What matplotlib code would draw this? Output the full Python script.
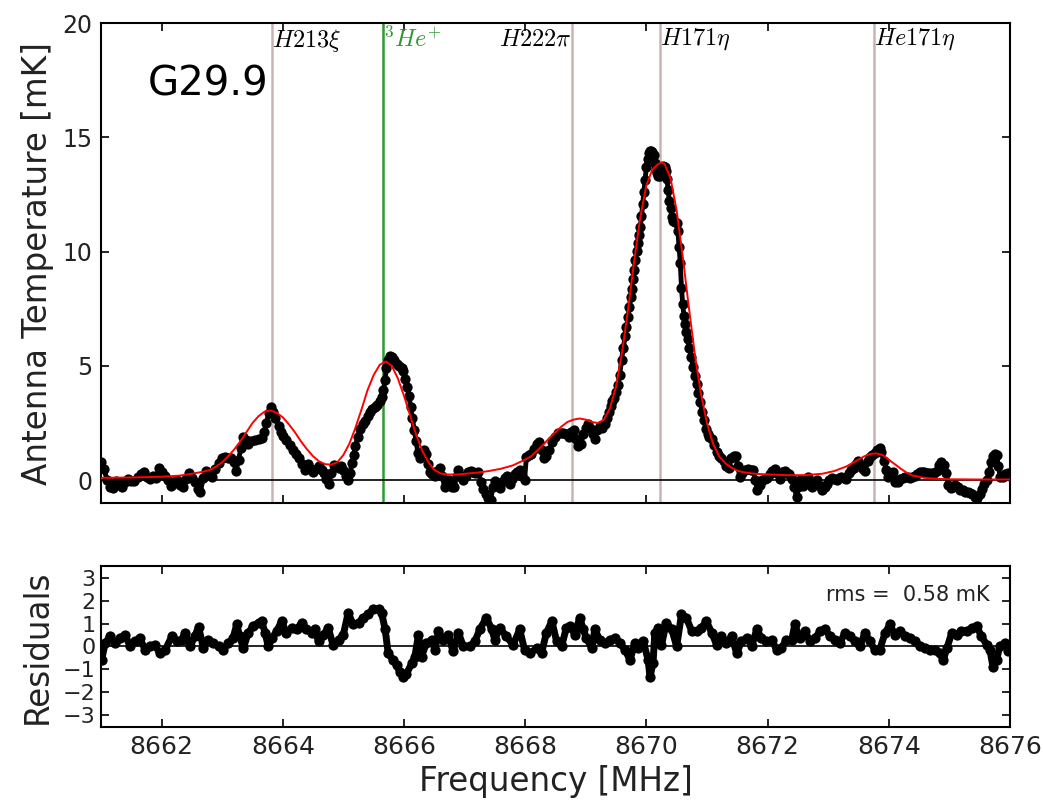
import matplotlib
matplotlib.use("Agg")
import matplotlib.pyplot as plt

plt.rcParams['font.family'] = ['DejaVu Sans']
plt.rcParams['mathtext.fontset'] = 'cm'

# ---------------- data ----------------
data_freq = [
    8661.00, 8661.05, 8661.10, 8661.15, 8661.20, 8661.25, 8661.29, 8661.34, 8661.40, 8661.45,
    8661.50, 8661.55, 8661.61, 8661.66, 8661.71, 8661.76, 8661.81, 8661.86, 8661.91, 8661.96,
    8662.01, 8662.06, 8662.11, 8662.16, 8662.21, 8662.26, 8662.31, 8662.36, 8662.41, 8662.46,
    8662.51, 8662.56, 8662.60, 8662.64, 8662.69, 8662.74, 8662.79, 8662.84, 8662.89, 8662.94,
    8662.99, 8663.04, 8663.09, 8663.14, 8663.19, 8663.23, 8663.27, 8663.31, 8663.35, 8663.39,
    8663.43, 8663.48, 8663.54, 8663.60, 8663.65, 8663.69, 8663.73, 8663.77, 8663.80, 8663.84,
    8663.88, 8663.93, 8663.97, 8664.01, 8664.06, 8664.12, 8664.17, 8664.22, 8664.27, 8664.32,
    8664.37, 8664.42, 8664.46, 8664.50, 8664.55, 8664.59, 8664.64, 8664.68, 8664.72, 8664.76,
    8664.80, 8664.84, 8664.88, 8664.92, 8664.96, 8665.00, 8665.04, 8665.08, 8665.11, 8665.14,
    8665.17, 8665.20, 8665.24, 8665.28, 8665.32, 8665.36, 8665.40, 8665.44, 8665.48, 8665.52,
    8665.56, 8665.60, 8665.63, 8665.66, 8665.69, 8665.71, 8665.74, 8665.77, 8665.80, 8665.84,
    8665.88, 8665.92, 8665.96, 8665.99, 8666.02, 8666.05, 8666.08, 8666.11, 8666.14, 8666.17,
    8666.20, 8666.23, 8666.26, 8666.30, 8666.33, 8666.37, 8666.40, 8666.43, 8666.47, 8666.51,
    8666.55, 8666.59, 8666.63, 8666.67, 8666.71, 8666.75, 8666.79, 8666.83, 8666.87, 8666.90,
    8666.94, 8666.98, 8667.02, 8667.06, 8667.10, 8667.14, 8667.18, 8667.23, 8667.27, 8667.31,
    8667.35, 8667.39, 8667.43, 8667.47, 8667.51, 8667.55, 8667.58, 8667.62, 8667.66, 8667.70,
    8667.75, 8667.79, 8667.83, 8667.87, 8667.91, 8667.95, 8667.99, 8668.02, 8668.06, 8668.10,
    8668.15, 8668.19, 8668.23, 8668.27, 8668.31, 8668.35, 8668.40, 8668.45, 8668.49, 8668.54,
    8668.59, 8668.63, 8668.68, 8668.72, 8668.76, 8668.80, 8668.84, 8668.88, 8668.92, 8668.96,
    8669.00, 8669.04, 8669.08, 8669.12, 8669.15, 8669.19, 8669.23, 8669.27, 8669.31, 8669.35,
    8669.38, 8669.41, 8669.44, 8669.47, 8669.50, 8669.53, 8669.56, 8669.59, 8669.62, 8669.65,
    8669.67, 8669.70, 8669.72, 8669.74, 8669.76, 8669.78, 8669.80, 8669.82, 8669.84, 8669.86,
    8669.88, 8669.90, 8669.92, 8669.94, 8669.96, 8669.98, 8670.00, 8670.02, 8670.04, 8670.06,
    8670.08, 8670.10, 8670.12, 8670.14, 8670.16, 8670.18, 8670.20, 8670.22, 8670.24, 8670.26,
    8670.28, 8670.30, 8670.32, 8670.34, 8670.36, 8670.38, 8670.40, 8670.42, 8670.44, 8670.47,
    8670.50, 8670.52, 8670.54, 8670.56, 8670.58, 8670.60, 8670.62, 8670.64, 8670.66, 8670.68,
    8670.71, 8670.74, 8670.77, 8670.80, 8670.83, 8670.86, 8670.89, 8670.92, 8670.95, 8670.98,
    8671.01, 8671.04, 8671.08, 8671.12, 8671.16, 8671.20, 8671.24, 8671.28, 8671.32, 8671.36,
    8671.40, 8671.44, 8671.48, 8671.51, 8671.54, 8671.58, 8671.63, 8671.68, 8671.72, 8671.76,
    8671.80, 8671.83, 8671.87, 8671.91, 8671.95, 8671.99, 8672.04, 8672.08, 8672.12, 8672.16,
    8672.20, 8672.24, 8672.28, 8672.32, 8672.36, 8672.40, 8672.44, 8672.48, 8672.51, 8672.54,
    8672.58, 8672.62, 8672.66, 8672.70, 8672.74, 8672.78, 8672.82, 8672.86, 8672.90, 8672.94,
    8672.98, 8673.02, 8673.06, 8673.10, 8673.14, 8673.18, 8673.22, 8673.26, 8673.30, 8673.34,
    8673.38, 8673.42, 8673.46, 8673.50, 8673.53, 8673.57, 8673.61, 8673.65, 8673.69, 8673.73,
    8673.77, 8673.81, 8673.85, 8673.88, 8673.92, 8673.96, 8673.99, 8674.03, 8674.07, 8674.11,
    8674.15, 8674.19, 8674.23, 8674.27, 8674.31, 8674.35, 8674.39, 8674.43, 8674.47, 8674.51,
    8674.55, 8674.59, 8674.63, 8674.67, 8674.71, 8674.75, 8674.79, 8674.83, 8674.87, 8674.91,
    8674.95, 8674.98, 8675.02, 8675.06, 8675.10, 8675.14, 8675.18, 8675.22, 8675.26, 8675.30,
    8675.34, 8675.38, 8675.42, 8675.46, 8675.50, 8675.54, 8675.58, 8675.62, 8675.66, 8675.69,
    8675.72, 8675.75, 8675.78, 8675.81, 8675.84, 8675.88, 8675.92, 8675.96, 8676.00,
]
data_temp = [
    0.8, 0.5, 0.0, -0.3, -0.35, -0.05, -0.1, -0.3, -0.1, 0.05,
    -0.05, -0.05, 0.15, 0.25, 0.35, 0.15, 0.05, 0.2, 0.1, 0.55,
    0.35, 0.2, 0.0, -0.25, -0.1, 0.0, -0.2, -0.3, 0.05, 0.3,
    0.1, -0.1, -0.4, -0.5, 0.1, 0.4, 0.25, 0.15, 0.5, 0.75,
    0.95, 1.0, 0.95, 0.95, 0.8, 0.4, 0.9, 1.4, 1.9, 1.75,
    1.6, 1.7, 1.75, 1.8, 1.85, 2.1, 2.5, 2.95, 3.2, 3.0,
    2.7, 2.35, 2.1, 1.95, 1.75, 1.55, 1.3, 1.15, 0.95, 0.7,
    0.45, 0.7, 0.5, 0.35, 0.5, 0.6, 0.45, 0.3, 0.05, -0.15,
    0.3, 0.65, 0.6, 0.55, 0.6, 0.45, 0.2, 0.0, 0.3, 0.75,
    1.1, 1.5, 1.9, 2.25, 2.45, 2.6, 2.8, 3.0, 3.1, 3.2,
    3.3, 3.45, 3.65, 3.95, 4.4, 4.9, 5.25, 5.45, 5.4, 5.25,
    5.1, 5.0, 4.9, 4.8, 4.45, 4.1, 3.7, 3.2, 2.7, 2.2,
    1.7, 1.2, 0.95, 1.2, 1.3, 1.15, 0.7, 0.35, 0.25, 0.2,
    0.4, 0.55, 0.2, -0.3, -0.1, 0.0, -0.3, -0.3, 0.2, 0.45,
    0.2, 0.0, 0.2, 0.35, 0.4, 0.35, 0.3, 0.35, -0.1, -0.4,
    -0.6, -0.8, -0.85, -0.3, -0.05, -0.15, -0.35, -0.1, 0.1, 0.2,
    -0.15, 0.05, 0.25, 0.35, 0.45, 0.2, 0.0, 1.0, 1.1, 1.15,
    1.35, 1.6, 1.65, 1.3, 0.95, 1.05, 1.3, 1.65, 1.9, 2.05,
    2.05, 2.05, 2.0, 1.9, 2.1, 2.2, 1.8, 1.5, 1.6, 2.0,
    2.3, 2.45, 2.25, 2.0, 1.8, 2.2, 2.35, 2.3, 2.45, 2.7,
    3.0, 3.25, 3.45, 3.6, 3.85, 4.15, 4.6, 5.25, 5.8, 6.3,
    6.7, 7.15, 7.6, 8.0, 8.35, 8.8, 9.2, 9.65, 10.05, 10.4,
    10.75, 11.1, 11.55, 12.1, 12.6, 13.15, 13.7, 14.05, 14.3, 14.4,
    14.4, 14.35, 14.25, 13.9, 13.6, 13.45, 13.3, 13.3, 13.45, 13.65,
    13.75, 13.7, 13.55, 13.2, 12.7, 12.2, 11.9, 11.5, 11.35, 11.3,
    11.25, 10.9, 10.2, 9.5, 8.4, 7.7, 7.2, 6.85, 6.5, 6.2,
    5.8, 5.4, 4.95, 4.55, 4.2, 3.8, 3.4, 3.0, 2.65, 2.25,
    2.0, 1.9, 1.8, 1.55, 1.25, 1.05, 0.95, 0.85, 0.6, 0.55,
    0.95, 1.05, 1.05, 0.6, 0.15, 0.3, 0.45, 0.5, 0.45, 0.45,
    0.0, -0.45, -0.2, 0.0, 0.05, 0.1, 0.25, 0.4, 0.5, 0.3,
    0.05, 0.35, 0.4, 0.3, 0.25, 0.05, -0.3, -0.75, -0.3, 0.0,
    -0.25, -0.1, 0.15, -0.1, -0.3, -0.1, 0.0, -0.25, -0.45, -0.3,
    -0.15, 0.0, 0.1, 0.05, 0.0, 0.1, 0.15, 0.1, 0.05, 0.3,
    0.45, 0.55, 0.7, 0.85, 0.66, 0.5, 0.4, 0.85, 1.0, 1.1,
    1.2, 1.3, 1.4, 1.25, 0.85, 0.45, 0.15, 0.3, 0.35, -0.1,
    -0.1, 0.05, 0.1, 0.15, 0.15, 0.1, 0.15, 0.2, 0.25, 0.35,
    0.35, 0.35, 0.3, 0.3, 0.3, 0.3, 0.4, 0.65, 0.8, 0.65,
    0.3, -0.2, -0.35, -0.3, -0.2, -0.3, -0.45, -0.45, -0.5, -0.5,
    -0.55, -0.6, -0.75, -0.8, -0.6, -0.4, -0.15, 0.0, 0.35, 0.8,
    1.05, 1.15, 1.1, 0.6, 0.15, 0.15, 0.25, 0.3, 0.2,
]

model_freq = [
    8661.0, 8661.5, 8662.0, 8662.3, 8662.5, 8662.7, 8662.8, 8662.9, 8663.0, 8663.1,
    8663.2, 8663.3, 8663.4, 8663.5, 8663.6, 8663.7, 8663.8, 8663.9, 8664.0, 8664.1,
    8664.2, 8664.3, 8664.4, 8664.5, 8664.6, 8664.7, 8664.8, 8664.9, 8665.0, 8665.1,
    8665.2, 8665.3, 8665.4, 8665.5, 8665.6, 8665.7, 8665.8, 8665.9, 8666.0, 8666.1,
    8666.2, 8666.3, 8666.4, 8666.5, 8666.6, 8666.7, 8666.8, 8666.9, 8667.0, 8667.2,
    8667.4, 8667.6, 8667.8, 8668.0, 8668.1, 8668.2, 8668.3, 8668.4, 8668.5, 8668.6,
    8668.7, 8668.8, 8668.9, 8669.0, 8669.1, 8669.2, 8669.3, 8669.4, 8669.5, 8669.6,
    8669.7, 8669.8, 8669.9, 8670.0, 8670.1, 8670.2, 8670.25, 8670.3, 8670.4, 8670.5,
    8670.6, 8670.7, 8670.8, 8670.9, 8671.0, 8671.1, 8671.2, 8671.3, 8671.4, 8671.5,
    8671.6, 8671.8, 8672.0, 8672.3, 8672.6, 8672.9, 8673.1, 8673.3, 8673.5, 8673.6,
    8673.7, 8673.8, 8673.9, 8674.0, 8674.1, 8674.2, 8674.3, 8674.4, 8674.6, 8674.8,
    8675.0, 8675.5, 8676.0,
]
model_temp = [
    0.1, 0.12, 0.15, 0.2, 0.28, 0.38, 0.45, 0.6, 0.78, 1.05,
    1.35, 1.7, 2.1, 2.5, 2.8, 3.0, 3.05, 2.95, 2.75, 2.45,
    2.1, 1.7, 1.35, 1.05, 0.82, 0.7, 0.68, 0.78, 1.1, 1.6,
    2.3, 3.1, 3.95, 4.6, 5.05, 5.2, 5.0, 4.45, 3.7, 2.85,
    2.0, 1.3, 0.8, 0.45, 0.3, 0.25, 0.25, 0.25, 0.28, 0.33,
    0.4, 0.5, 0.65, 0.9, 1.05, 1.3, 1.55, 1.85, 2.1, 2.35,
    2.55, 2.65, 2.7, 2.65, 2.55, 2.5, 2.65, 3.15, 4.1, 5.6,
    7.5, 9.6, 11.5, 12.9, 13.6, 13.85, 13.9, 13.85, 13.2, 11.8,
    9.8, 7.6, 5.5, 3.8, 2.5, 1.6, 1.05, 0.75, 0.55, 0.42,
    0.35, 0.28, 0.25, 0.22, 0.22, 0.28, 0.4, 0.6, 0.9, 1.05,
    1.15, 1.17, 1.1, 0.9, 0.7, 0.5, 0.32, 0.2, 0.1, 0.06,
    0.04, 0.03, 0.03,
]

resid_freq = [
    8661.01, 8661.07, 8661.15, 8661.23, 8661.31, 8661.40, 8661.48, 8661.56, 8661.64, 8661.73,
    8661.81, 8661.89, 8661.97, 8662.06, 8662.17, 8662.25, 8662.33, 8662.39, 8662.47, 8662.55,
    8662.61, 8662.69, 8662.77, 8662.85, 8662.94, 8663.02, 8663.10, 8663.18, 8663.24, 8663.29,
    8663.35, 8663.43, 8663.51, 8663.60, 8663.65, 8663.71, 8663.76, 8663.82, 8663.90, 8663.98,
    8664.06, 8664.15, 8664.23, 8664.31, 8664.39, 8664.48, 8664.53, 8664.59, 8664.67, 8664.75,
    8664.83, 8664.92, 8665.00, 8665.08, 8665.16, 8665.25, 8665.33, 8665.41, 8665.49, 8665.58,
    8665.63, 8665.69, 8665.74, 8665.82, 8665.88, 8665.93, 8665.99, 8666.04, 8666.13, 8666.18,
    8666.24, 8666.29, 8666.37, 8666.46, 8666.51, 8666.57, 8666.65, 8666.73, 8666.81, 8666.90,
    8666.98, 8667.09, 8667.17, 8667.25, 8667.36, 8667.45, 8667.50, 8667.58, 8667.69, 8667.80,
    8667.91, 8667.99, 8668.08, 8668.19, 8668.27, 8668.35, 8668.44, 8668.52, 8668.60, 8668.68,
    8668.74, 8668.82, 8668.90, 8668.96, 8669.01, 8669.10, 8669.15, 8669.23, 8669.32, 8669.40,
    8669.48, 8669.56, 8669.65, 8669.73, 8669.81, 8669.87, 8669.95, 8670.03, 8670.06, 8670.11,
    8670.14, 8670.20, 8670.25, 8670.33, 8670.42, 8670.50, 8670.58, 8670.66, 8670.75, 8670.83,
    8670.91, 8670.99, 8671.08, 8671.16, 8671.24, 8671.32, 8671.41, 8671.49, 8671.57, 8671.66,
    8671.74, 8671.82, 8671.90, 8671.98, 8672.07, 8672.15, 8672.23, 8672.31, 8672.40, 8672.45,
    8672.53, 8672.62, 8672.70, 8672.78, 8672.87, 8672.95, 8673.03, 8673.11, 8673.19, 8673.28,
    8673.36, 8673.44, 8673.52, 8673.61, 8673.69, 8673.77, 8673.85, 8673.94, 8674.02, 8674.10,
    8674.18, 8674.27, 8674.35, 8674.43, 8674.51, 8674.60, 8674.68, 8674.76, 8674.84, 8674.90,
    8674.96, 8675.04, 8675.12, 8675.20, 8675.29, 8675.37, 8675.45, 8675.53, 8675.62, 8675.67,
    8675.72, 8675.78, 8675.83, 8675.92, 8675.97,
]
resid_val = [
    -0.6, 0.15, 0.45, 0.15, 0.37, 0.52, 0.0, 0.22, 0.37, -0.15,
    0.0, 0.07, -0.3, -0.15, 0.45, 0.22, 0.3, 0.6, 0.0, 0.45,
    0.87, -0.07, 0.3, 0.15, 0.0, -0.15, 0.15, 0.37, 0.97, 0.45,
    -0.07, 0.6, 0.9, 1.05, 1.12, 0.6, 0.0, 0.37, 0.67, 1.12,
    0.6, 0.82, 0.75, 1.05, 0.75, 0.6, 0.75, 0.22, 0.52, 0.82,
    0.07, 0.3, 0.52, 1.49, 0.97, 1.05, 1.27, 1.42, 1.64, 1.64,
    1.49, 0.75, -0.3, -0.6, -0.82, -1.12, -1.34, -1.2, -0.75, -0.45,
    0.52, -0.45, 0.15, 0.3, -0.15, 0.67, 0.3, 0.52, -0.22, 0.6,
    0.0, 0.0, 0.22, 0.75, 1.27, 0.75, 0.3, 0.82, 0.45, 0.07,
    0.75, -0.15, -0.3, -0.07, -0.3, 0.6, 1.12, 0.22, 0.0, 0.82,
    0.9, 0.52, 1.27, 0.75, 0.37, -0.07, 0.75, 0.3, 0.15, 0.3,
    0.37, 0.15, -0.15, -0.6, 0.15, -0.07, 0.22, -0.6, -1.34, -0.75,
    0.6, 0.82, 0.07, 1.05, 0.75, 0.0, 1.42, 1.27, 0.67, 0.67,
    0.82, 1.12, 0.6, 0.07, 0.45, 0.15, 0.45, -0.3, 0.22, 0.37,
    0.0, 0.75, 0.37, 0.22, 0.3, -0.15, -0.07, 0.3, 0.3, 0.97,
    0.37, 0.67, 0.22, 0.37, 0.67, 0.75, 0.45, 0.3, 0.15, 0.6,
    0.45, 0.22, 0.0, 0.6, 0.22, -0.15, -0.15, 0.6, 0.97, 0.52,
    0.67, 0.45, 0.37, 0.22, 0.0, -0.07, -0.15, -0.15, -0.3, -0.6,
    -0.07, 0.6, 0.52, 0.67, 0.67, 0.82, 0.9, 0.45, 0.07, -0.15,
    -0.9, -0.6, 0.0, 0.15, -0.22,
]

line_names = [r'$H213\xi$', r'$^{3}He^{+}$', r'$H222\pi$', r'$H171\eta$', r'$He171\eta$']
line_freqs = [8663.82, 8665.66, 8668.77, 8670.22, 8673.76]
line_colors = ['#c9b4b4', '#2e9a2e', '#c9b4b4', '#c9b4b4', '#c9b4b4']
line_text_colors = ['black', '#2e9a2e', 'black', 'black', 'black']
line_align = ['left', 'left', 'right', 'left', 'left']

source_name = 'G29.9'
rms_text = 'rms =  0.58 mK'

# ---------------- figure ----------------
fig = plt.figure(figsize=(10.43, 8.01), dpi=100)
ax = fig.add_axes([0.0968, 0.372, 0.8715, 0.599])
axr = fig.add_axes([0.0968, 0.0924, 0.8715, 0.201], sharex=ax)

for a in (ax, axr):
    a.tick_params(direction='in', which='both', top=True, right=True,
                  length=6, width=1.2, labelsize=17, pad=6, labelcolor='#222222')
    a.tick_params(axis='x', labelsize=18)
    for s in a.spines.values():
        s.set_linewidth(1.5)
axr.tick_params(axis='y', labelsize=16, pad=4)

# top panel
for f, c in zip(line_freqs, line_colors):
    ax.axvline(f, color=c, lw=1.8, zorder=1)
ax.axhline(0, color='black', lw=1.2, zorder=1)
ax.plot(data_freq, data_temp, '-', color='black', lw=3.5, zorder=2)
ax.plot(data_freq, data_temp, 'o', color='black', ms=7.4, mew=0, zorder=2)
ax.plot(model_freq, model_temp, '-', color='red', lw=1.4, zorder=3)

for name, f, tc, ha in zip(line_names, line_freqs, line_text_colors, line_align):
    ax.text(f, 19.85, name, color=tc, fontsize=17.5, ha=ha, va='top', zorder=4)

ax.text(8661.78, 16.85, source_name, fontsize=29, ha='left', va='baseline')

ax.set_xlim(8661, 8676)
ax.set_ylim(-1, 20)
ax.set_yticks([0, 5, 10, 15, 20])
ax.set_xticks(list(range(8662, 8677, 2)))
plt.setp(ax.get_xticklabels(), visible=False)
ax.set_ylabel('Antenna Temperature [mK]', fontsize=23.5, color='#222222')

# residual panel
axr.axhline(0, color='black', lw=1.2, zorder=1)
axr.plot(resid_freq, resid_val, '-', color='black', lw=5, zorder=2)
axr.plot(resid_freq, resid_val, 'o', color='black', ms=7.4, mew=0, zorder=2)
axr.set_ylim(-3.55, 3.55)
axr.set_yticks([-3, -2, -1, 0, 1, 2, 3])
axr.set_xlim(8661, 8676)
axr.set_xticks(list(range(8662, 8677, 2)))
axr.set_xticklabels([str(v) for v in range(8662, 8677, 2)])
axr.text(8675.67, 2.0, rms_text, fontsize=15, ha='right', va='baseline', color='#222222')
axr.set_ylabel('Residuals', fontsize=23.5, color='#222222')
axr.set_xlabel('Frequency [MHz]', fontsize=23.5, color='#222222')

ax.yaxis.set_label_coords(-0.052, 0.5)
axr.yaxis.set_label_coords(-0.052, 0.5)

fig.savefig('out.png', dpi=100)
